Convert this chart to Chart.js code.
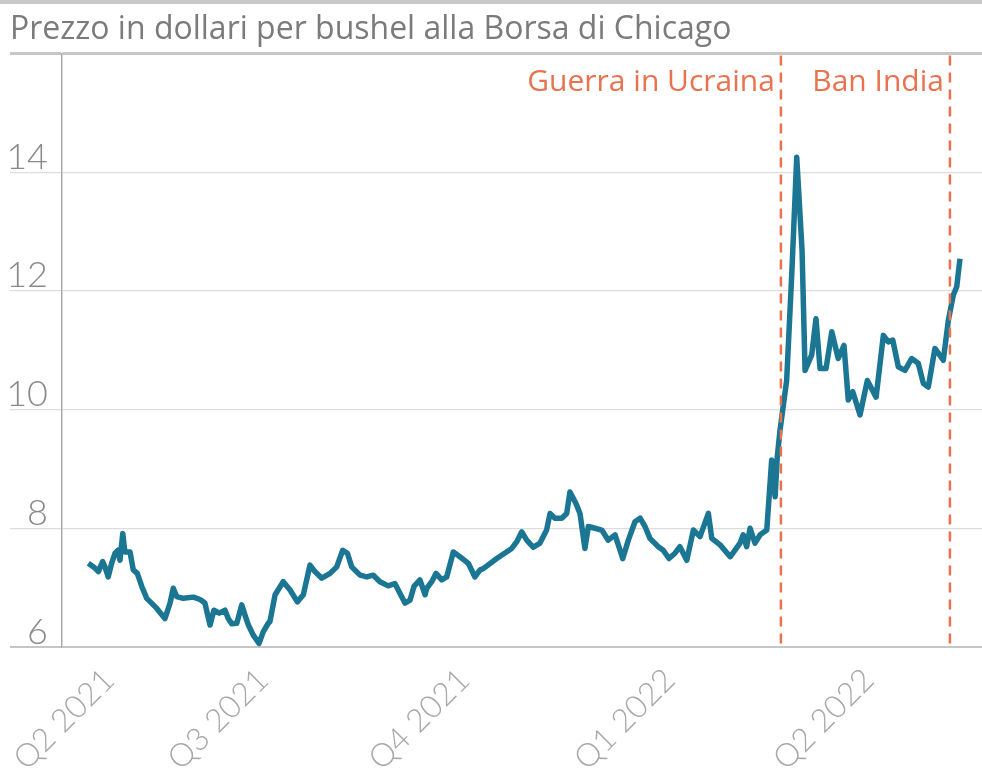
<!DOCTYPE html>
<html lang="it">
<head>
<meta charset="utf-8">
<title>Prezzo del grano - Borsa di Chicago</title>
<script src="https://cdn.jsdelivr.net/npm/chart.js@4.4.1/dist/chart.umd.min.js"></script>
<style>
    html, body { margin: 0; padding: 0; background: #ffffff; }
    #wrap { width: 982px; height: 779px; }
</style>
</head>
<body>
<div id="wrap"><canvas id="priceChart" width="982" height="779"></canvas></div>
<script>
// Giorni trascorsi dal 25 marzo 2021
const days = [
    12.3, 15.4, 17.0, 19.0, 20.1, 21.6, 23.2, 24.8, 26.2, 27.1,
    28.4, 29.4, 31.8, 33.3, 35.2, 37.3, 39.6, 44.3, 48.1, 50.5,
    52.0, 53.6, 56.7, 61.4, 64.5, 66.8, 69.2, 71.0, 73.5, 76.2,
    77.7, 79.3, 81.7, 84.0, 85.5, 87.1, 89.4, 92.1, 94.1, 96.4,
    97.2, 99.6, 103.4, 106.6, 110.0, 112.8, 115.9, 118.2, 121.4, 125.3,
    128.4, 131.2, 133.4, 135.4, 139.3, 142.4, 145.5, 148.6, 152.5, 155.6,
    158.0, 160.3, 162.7, 164.5, 167.3, 169.7, 170.5, 172.8, 174.8, 177.5,
    179.8, 182.9, 186.0, 189.9, 193.0, 195.4, 196.9, 203.2, 210.2, 212.5,
    214.9, 217.2, 220.3, 223.4, 226.5, 228.1, 230.4, 233.6, 235.9, 237.4,
    240.2, 242.1, 244.4, 246.0, 249.1, 252.3, 255.3, 258.5, 262.1, 264.7,
    267.8, 270.2, 272.5, 274.8, 278.7, 281.0, 283.7, 286.5, 288.8, 292.0,
    295.1, 298.2, 302.1, 303.7, 307.6, 312.3, 316.9, 318.4, 320.0, 321.6,
    323.9, 326.3, 329.4, 331.7, 333.3, 334.3, 335.6, 338.7, 341.1, 343.4,
    345.9, 347.3, 350.4, 352.4, 354.3, 357.1, 359.8, 362.8, 365.5, 367.5,
    369.6, 373.0, 376.4, 380.5, 383.9, 386.2, 388.3, 390.9, 394.0, 397.1,
    400.2, 402.6, 404.9, 408.0, 411.9, 414.3, 416.6, 418.2, 419.7
];

// Prezzo in dollari per bushel
const prices = [
    7.41, 7.33, 7.27, 7.44, 7.35, 7.18, 7.41, 7.58, 7.63, 7.46,
    7.91, 7.60, 7.60, 7.30, 7.24, 7.02, 6.82, 6.65, 6.48, 6.74,
    6.99, 6.85, 6.82, 6.84, 6.80, 6.74, 6.37, 6.62, 6.57, 6.62,
    6.48, 6.39, 6.40, 6.71, 6.54, 6.37, 6.20, 6.06, 6.26, 6.40,
    6.43, 6.88, 7.10, 6.96, 6.76, 6.88, 7.38, 7.27, 7.16, 7.24,
    7.35, 7.63, 7.58, 7.35, 7.21, 7.18, 7.21, 7.10, 7.03, 7.07,
    6.90, 6.74, 6.79, 7.02, 7.13, 6.88, 6.99, 7.10, 7.24, 7.13,
    7.18, 7.60, 7.52, 7.41, 7.18, 7.30, 7.32, 7.49, 7.66, 7.77,
    7.94, 7.80, 7.68, 7.75, 7.97, 8.25, 8.17, 8.17, 8.25, 8.61,
    8.42, 8.25, 7.66, 8.03, 8.00, 7.97, 7.80, 7.89, 7.49, 7.80,
    8.11, 8.17, 8.03, 7.83, 7.69, 7.63, 7.49, 7.58, 7.69, 7.46,
    7.97, 7.86, 8.25, 7.83, 7.72, 7.52, 7.75, 7.89, 7.69, 8.00,
    7.75, 7.89, 7.97, 9.15, 8.53, 9.20, 9.65, 10.49, 12.29, 14.25,
    12.68, 10.66, 10.92, 11.53, 10.69, 10.69, 11.31, 10.86, 11.08, 10.16,
    10.30, 9.91, 10.49, 10.21, 11.25, 11.14, 11.17, 10.72, 10.66, 10.86,
    10.78, 10.44, 10.38, 11.03, 10.83, 11.51, 11.93, 12.07, 12.54
];

const quarterLabels = ['Q2 2021', 'Q3 2021', 'Q4 2021', 'Q1 2022', 'Q2 2022'];
const quarterTicks = [22, 94, 188, 284, 377];

const eventLabels = ['Guerra in Ucraina', 'Ban India'];
const eventDays = [336, 415];

const LINE_COLOR = '#1b7693';
const EVENT_COLOR = '#e9724f';
const FONT = 'Lato, "Open Sans", sans-serif';
const WIDE_FONT = '"Open Sans", Lato, sans-serif';

const PriceChart = {
    chart: null,

    /**
     * Build the chart
     */
    init() {
        const canvas = document.getElementById('priceChart');
        this.chart = new Chart(canvas, {
            type: 'line',
            data: {
                datasets: [{
                    data: days.map((d, i) => ({ x: d, y: prices[i] })),
                    borderColor: LINE_COLOR,
                    borderWidth: 5.5,
                    borderJoinStyle: 'round',
                    pointRadius: 0,
                    tension: 0,
                    fill: false
                }]
            },
            options: this.getOptions(),
            plugins: [this.frameLine, this.eventMarkers]
        });
    },

    /**
     * Chart options
     */
    getOptions() {
        return {
            responsive: false,
            animation: false,
            devicePixelRatio: 1,
            layout: { padding: { left: 10, right: 0, top: 0, bottom: 0 } },
            scales: {
                x: {
                    type: 'linear',
                    min: 0,
                    max: 430,
                    afterBuildTicks: (scale) => {
                        scale.ticks = quarterTicks.map(v => ({ value: v }));
                    },
                    afterFit: (scale) => { scale.height = 132; },
                    grid: { display: false },
                    border: { display: false },
                    ticks: {
                        autoSkip: false,
                        minRotation: 45,
                        maxRotation: 45,
                        padding: 6,
                        color: '#a8a8a8',
                        font: { family: FONT, size: 32, weight: 300 },
                        callback: (value, index) => quarterLabels[index]
                    }
                },
                y: {
                    min: 6,
                    max: 16,
                    afterFit: (scale) => { scale.width = 52; },
                    grid: {
                        tickLength: 52,
                        color: (ctx) => (ctx.tick && (ctx.tick.value === 16 || ctx.tick.value === 6)) ? '#c6c6c6' : '#dddddd',
                        lineWidth: (ctx) => {
                            if (!ctx.tick) return 1;
                            if (ctx.tick.value === 16) return 3;
                            if (ctx.tick.value === 6) return 2;
                            return 1.2;
                        }
                    },
                    border: { display: true, color: '#aaaaaa', width: 1.5 },
                    ticks: {
                        stepSize: 2,
                        padding: -38,
                        labelOffset: -15,
                        color: '#8a8a8a',
                        font: { family: FONT, size: 36, weight: 300 },
                        callback: (value) => value === 16 ? '' : value
                    }
                }
            },
            plugins: {
                legend: { display: false },
                tooltip: { enabled: false },
                title: {
                    display: true,
                    text: 'Prezzo in dollari per bushel alla Borsa di Chicago',
                    align: 'start',
                    color: '#7b7b7b',
                    font: { family: WIDE_FONT, size: 32, weight: 400, lineHeight: 1.2 },
                    padding: { top: 11, bottom: 4 }
                }
            }
        };
    },

    /**
     * Grey rule along the top edge
     */
    frameLine: {
        id: 'frameLine',
        beforeDraw(chart) {
            const { ctx, width } = chart;
            ctx.save();
            ctx.fillStyle = '#c8c8c8';
            ctx.fillRect(0, 0, width, 4);
            ctx.restore();
        }
    },

    /**
     * Dashed event lines with their labels
     */
    eventMarkers: {
        id: 'eventMarkers',
        afterDatasetsDraw(chart) {
            const { ctx, chartArea } = chart;
            const x = chart.scales.x;
            ctx.save();
            ctx.strokeStyle = EVENT_COLOR;
            ctx.fillStyle = EVENT_COLOR;
            ctx.lineWidth = 2.5;
            ctx.setLineDash([10, 7]);
            ctx.font = '400 30px ' + WIDE_FONT;
            ctx.textAlign = 'right';
            ctx.textBaseline = 'middle';
            eventDays.forEach((d, i) => {
                const px = x.getPixelForValue(d);
                ctx.beginPath();
                ctx.moveTo(px, chartArea.top + 2);
                ctx.lineTo(px, chartArea.bottom);
                ctx.stroke();
                ctx.fillText(eventLabels[i], px - 6, chartArea.top + 29);
            });
            ctx.restore();
        }
    }
};

PriceChart.init();
</script>
</body>
</html>
